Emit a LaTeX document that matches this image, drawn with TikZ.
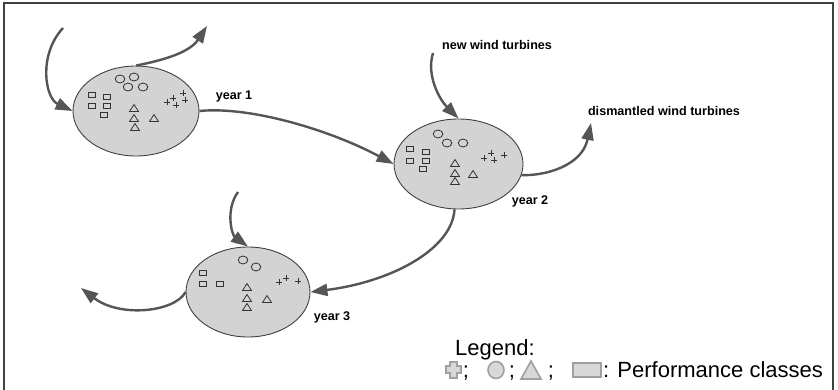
\documentclass[tikz,border=0pt]{standalone}
\usepackage{fontspec}
\setmainfont{Liberation Sans}
\usetikzlibrary{shapes.geometric,arrows.meta}
\definecolor{arrowgray}{HTML}{555555}
\definecolor{cellfill}{HTML}{D3D3D3}
\definecolor{legfill}{HTML}{D8D8D8}
\definecolor{legline}{HTML}{A0A0A0}
\tikzset{
  yearcell/.style={ellipse,draw=black!75,line width=0.9pt,fill=cellfill,inner sep=0pt},
  flow/.style={draw=arrowgray,line width=2.4pt,-{Triangle[length=17pt,width=12pt]}},
  lbl/.style={font=\fontsize{12.6}{14}\selectfont\bfseries,inner sep=0pt},
  legtext/.style={font=\fontsize{22}{26}\selectfont,inner sep=0pt},
  glyph/.style={draw=black!80,line width=0.8pt},
  leg/.style={draw=legline,fill=legfill,line width=1.6pt},
  frame/.style={draw=black!75,line width=1.2pt}
}
\newcommand{\mysq}[2]{\draw[glyph] (#1-3.5,#2-2.5) rectangle (#1+3.5,#2+2.5);}
\newcommand{\mycirc}[2]{\draw[glyph] (#1,#2) ellipse [x radius=4.8, y radius=4];}
\newcommand{\mytri}[2]{\draw[glyph] (#1-4.5,#2+3.5) -- (#1+4.5,#2+3.5) -- (#1,#2-3.5) -- cycle;}
\newcommand{\myplus}[2]{\draw[glyph] (#1-3,#2) -- (#1+3,#2) (#1,#2-3) -- (#1,#2+3);}
\begin{document}
\begin{tikzpicture}[x=1pt,y=-1pt]
\useasboundingbox (0,0) rectangle (838,390);
\fill[white] (0,0) rectangle (838,390);
\draw[frame] (4,3) rectangle (833,398);

% cells
\node[yearcell,minimum width=126,minimum height=90] (e1) at (136,111) {};
\node[yearcell,minimum width=129,minimum height=90] (e2) at (458.5,164) {};
\node[yearcell,minimum width=124,minimum height=90] (e3) at (248,292) {};

% contents cell 1
\mycirc{120}{79}\mycirc{134}{77}\mycirc{128}{87}\mycirc{143}{87}
\mysq{92}{95}\mysq{107}{97}\mysq{92}{106}\mysq{107}{106}\mysq{104}{115}
\mytri{134}{108}\mytri{134}{118}\mytri{135}{127}\mytri{154}{118}
\myplus{173}{98}\myplus{183}{93}\myplus{167}{102}\myplus{176}{105}\myplus{185}{100}

% contents cell 2
\mycirc{438}{134}\mycirc{447}{143}\mycirc{463}{143}
\mysq{410}{149}\mysq{426}{152}\mysq{410}{161}\mysq{426}{161}\mysq{423}{169}
\mytri{455}{163}\mytri{455}{173}\mytri{455}{181}\mytri{473}{174}
\myplus{484}{158}\myplus{491}{153}\myplus{494}{160}\myplus{504}{155}

% contents cell 3
\mycirc{243}{260}\mycirc{256}{267}
\mysq{203}{273}\mysq{203}{284}\mysq{220}{284}
\mytri{247}{287}\mytri{247}{298}\mytri{247}{307}\mytri{267}{299}
\myplus{279}{282}\myplus{286}{278}\myplus{298}{281}

% labels
\node[lbl] (y1) at (234,96) {year 1};
\node[lbl] (y2) at (530,201) {year 2};
\node[lbl] (y3) at (332,317) {year 3};
\node[lbl] (nw) at (497,45) {new wind turbines};
\node[lbl] (dw) at (664,111) {dismantled wind turbines};

% free ends
\coordinate (a1s) at (63,28);
\coordinate (b1e) at (207,26);
\coordinate (d2s) at (433,53);
\coordinate (e2e) at (591,123);
\coordinate (g3s) at (238,192);
\coordinate (h3e) at (81,288);

% connectors
\draw[flow] (a1s) .. controls (38,55) and (45,98) .. (e1.west);
\draw[flow] (e1.north) .. controls (165,60) and (190,52) .. (b1e);
\draw[flow] (e1.east) .. controls (250,106) and (330,130) .. (e2.west);
\draw[flow] (d2s) .. controls (426,76) and (440,100) .. (e2.north);
\draw[flow] (e2.-10) .. controls (545,176) and (582,166) .. (e2e);
\draw[flow] (e2.-95) .. controls (452,250) and (390,282) .. (e3.east);
\draw[flow] (g3s) .. controls (225,210) and (232,235) .. (e3.north);
\draw[flow] (e3.west) .. controls (175,312) and (120,318) .. (h3e);

% legend
\node[legtext,anchor=base west] (legt) at (455,355) {Legend:};
\draw[leg] (450,366) -- (450,362) -- (457,362) -- (457,366) -- (461,366) -- (461,373) -- (457,373) -- (457,378) -- (450,378) -- (450,373) -- (446,373) -- (446,366) -- cycle;
\node[legtext,anchor=base] (s1) at (466,377) {;};
\draw[leg] (496,370) ellipse [x radius=8, y radius=8.5];
\node[legtext,anchor=base] (s2) at (512,377) {;};
\draw[leg] (521,379) -- (541,379) -- (531,361) -- cycle;
\node[legtext,anchor=base] (s3) at (551,377) {;};
\draw[leg] (573,363) rectangle (601,377);
\node[legtext,anchor=base west] (legc) at (603,377) {: Performance classes};
\end{tikzpicture}
\end{document}
